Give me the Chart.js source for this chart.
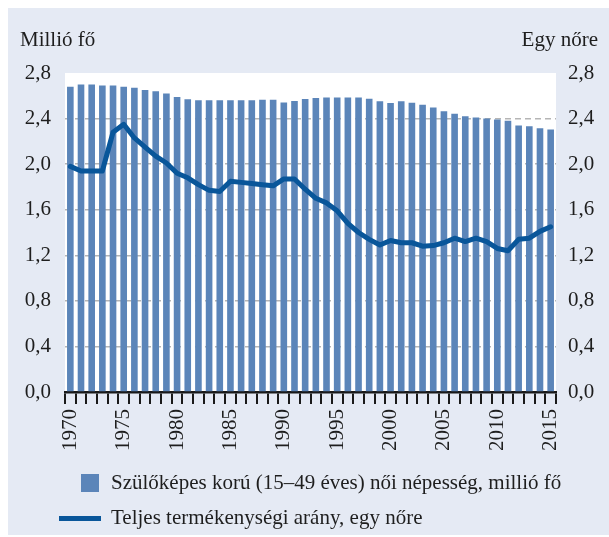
<!DOCTYPE html>
<html>
<head>
<meta charset="utf-8">
<script src="https://cdn.jsdelivr.net/npm/chart.js@4/dist/chart.umd.min.js"></script>
<style>
  html, body { margin: 0; padding: 0; background: #ffffff; }
  #wrap { position: relative; width: 609px; height: 537px; overflow: hidden; }
  #c { position: absolute; left: 0; top: 0; }
  .txt { position: absolute; font-family: "Liberation Serif", "Times New Roman", serif; font-size: 21px; color: #1e1e1e; white-space: nowrap; line-height: 1; }
  .sw { position: absolute; }
</style>
</head>
<body>
<div id="wrap">
  <canvas id="c" width="609" height="537"></canvas>
  <div class="txt" style="left:20px; top:29px;">Millió fő</div>
  <div class="txt" style="right:11px; top:29px;">Egy nőre</div>
  <div class="sw" style="left:81px; top:474px; width:18px; height:18px; background:#5b85b9;"></div>
  <div class="txt" style="left:111px; top:472px;">Szülőképes korú (15–49 éves) női népesség, millió fő</div>
  <div class="sw" style="left:59px; top:516px; width:42px; height:5px; background:#09569a;"></div>
  <div class="txt" style="left:111px; top:507px;">Teljes termékenységi arány, egy nőre</div>
</div>
<script>
const years = [1970,1971,1972,1973,1974,1975,1976,1977,1978,1979,
               1980,1981,1982,1983,1984,1985,1986,1987,1988,1989,
               1990,1991,1992,1993,1994,1995,1996,1997,1998,1999,
               2000,2001,2002,2003,2004,2005,2006,2007,2008,2009,
               2010,2011,2012,2013,2014,2015];

// Women of child-bearing age (15–49), million
const womenPop = [2.68,2.70,2.70,2.69,2.69,2.68,2.67,2.65,2.64,2.62,
                  2.59,2.57,2.56,2.56,2.56,2.56,2.56,2.56,2.565,2.565,
                  2.54,2.555,2.572,2.58,2.586,2.586,2.586,2.586,2.574,2.553,
                  2.536,2.553,2.539,2.521,2.498,2.465,2.442,2.421,2.41,2.401,
                  2.392,2.38,2.339,2.333,2.316,2.304];

// Total fertility rate, per woman
const fertility = [1.98,1.94,1.94,1.94,2.28,2.35,2.23,2.15,2.07,2.01,
                   1.92,1.88,1.82,1.77,1.76,1.85,1.84,1.83,1.82,1.81,
                   1.87,1.87,1.78,1.70,1.66,1.59,1.48,1.40,1.34,1.29,
                   1.33,1.31,1.31,1.28,1.285,1.31,1.35,1.32,1.35,1.32,
                   1.26,1.24,1.34,1.35,1.41,1.45];

const yTicks = [0, 0.4, 0.8, 1.2, 1.6, 2.0, 2.4, 2.8];
const yMin = 0, yMax = 2.8, yStep = 0.4;
const shownYears = [1970,1975,1980,1985,1990,1995,2000,2005,2010,2015];

const FONT = { family: '"Liberation Serif", "Times New Roman", serif', size: 21 };
const fmt = v => Number(v).toFixed(1).replace('.', ',');

const bgPlugin = {
  id: 'bg',
  beforeDraw(chart) {
    const ctx = chart.ctx, a = chart.chartArea;
    ctx.save();
    ctx.fillStyle = '#e5eaf4';
    ctx.fillRect(8, 8, 601, 527);
    ctx.fillStyle = '#ffffff';
    ctx.fillRect(a.left, a.top, a.right - a.left, a.bottom - a.top);
    ctx.restore();
  }
};

new Chart(document.getElementById('c'), {
  data: {
    labels: years,
    datasets: [
      {
        type: 'line',
        label: 'Teljes termékenységi arány, egy nőre',
        data: fertility,
        yAxisID: 'y1',
        borderColor: '#09569a',
        borderWidth: 5,
        pointRadius: 0,
        tension: 0,
        borderJoinStyle: 'round',
        borderCapStyle: 'round',
        order: 0
      },
      {
        type: 'bar',
        label: 'Szülőképes korú (15–49 éves) női népesség, millió fő',
        data: womenPop,
        yAxisID: 'y',
        backgroundColor: '#5b85b9',
        barPercentage: 0.62,
        categoryPercentage: 1.0,
        order: 1
      }
    ]
  },
  options: {
    responsive: false,
    animation: false,
    devicePixelRatio: 1,
    layout: { padding: { top: 73, left: 0, right: 0, bottom: 0 } },
    plugins: { legend: { display: false }, tooltip: { enabled: false } },
    scales: {
      x: {
        type: 'category',
        offset: true,
        afterFit(s) { s.height = 145; },
        grid: {
          offset: true,
          drawOnChartArea: false,
          drawTicks: true,
          tickLength: 12,
          color: '#1a1a1a',
          lineWidth: 2
        },
        border: { display: true, color: '#1a1a1a', width: 2.5 },
        ticks: {
          autoSkip: false,
          maxRotation: 90,
          minRotation: 90,
          padding: 5,
          color: '#1e1e1e',
          font: FONT,
          callback(value, index) {
            const yr = years[index];
            return shownYears.includes(yr) ? String(yr) : '';
          }
        }
      },
      y: {
        position: 'left',
        min: yMin, max: yMax,
        afterFit(s) { s.width = 65; },
        afterBuildTicks(s) { s.ticks = yTicks.map(v => ({ value: v })); },
        grid: {
          drawTicks: false,
          color: ctx => (ctx.tick && ctx.tick.value > 0.001 && ctx.tick.value < 2.79) ? '#b5b5b5' : 'rgba(0,0,0,0)',
          lineWidth: 1.5
        },
        border: { display: false, dash: [6, 4] },
        ticks: { stepSize: yStep, padding: 14, color: '#1e1e1e', font: FONT, callback: v => fmt(v) }
      },
      y1: {
        position: 'right',
        min: yMin, max: yMax,
        afterFit(s) { s.width = 53; },
        afterBuildTicks(s) { s.ticks = yTicks.map(v => ({ value: v })); },
        grid: { drawOnChartArea: false, drawTicks: false },
        border: { display: false },
        ticks: { stepSize: yStep, padding: 12, color: '#1e1e1e', font: FONT, callback: v => fmt(v) }
      }
    }
  },
  plugins: [bgPlugin]
});
</script>
</body>
</html>
